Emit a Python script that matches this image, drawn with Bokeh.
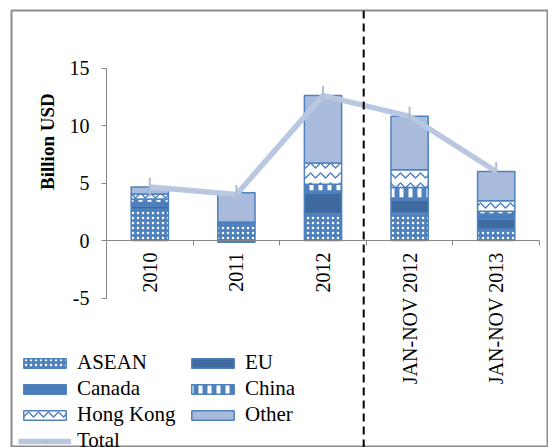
import math
from bokeh.plotting import figure
from bokeh.models import (Range1d, LinearAxis, FixedTicker, Legend, LegendItem,
                          Label, Span, ColumnDataSource)
from bokeh.embed import file_html
from bokeh.resources import INLINE

# ---- data ----
categories = ["2010", "2011", "2012", "JAN-NOV 2012", "JAN-NOV 2013"]
asean = [2.75, 1.45, 2.35, 2.40, 1.00]
eu = [0.25, 0.10, 1.75, 1.10, 0.85]
canada = [0.30, -0.15, 0.20, 0.20, 0.45]
china = [0.30, 0.05, 0.60, 0.90, 0.25]
hong_kong = [0.45, 0.00, 1.85, 1.55, 0.90]
other = [0.60, 2.55, 5.85, 4.65, 2.55]
total = [4.65, 4.00, 12.60, 10.80, 6.00]
y_ticks = [-5, 0, 5, 10, 15]

FONT = "Liberation Serif"
BLUE = "#4f81bd"

xs = list(range(1, len(categories) + 1))
bounds_x = [x - 0.5 for x in xs] + [xs[-1] + 0.5]

p = figure(width=548, height=447,
           x_range=Range1d(-0.597, 5.604), y_range=Range1d(-18.0, 20.0),
           output_backend="svg", toolbar_location=None,
           x_axis_type=None, y_axis_type=None,
           min_border=0, min_border_left=11, min_border_top=10)
p.grid.visible = False
p.outline_line_color = "#8c8c8c"
p.outline_line_width = 2
p.background_fill_color = "white"
p.border_fill_color = "white"

# ---- stacked bars (positive and negative stacks separately) ----
styles = [
    ("ASEAN", asean, dict(fill_color=BLUE, hatch_pattern="dot", hatch_color="white",
                          hatch_scale=5, hatch_weight=1.5)),
    ("EU", eu, dict(fill_color="#3f6aa0")),
    ("Canada", canada, dict(fill_color="#4a7ebb")),
    ("China", china, dict(fill_color=BLUE, hatch_pattern="vertical_line",
                          hatch_color="white", hatch_scale=9, hatch_weight=4)),
    ("Hong Kong", hong_kong, dict(fill_color="white", hatch_pattern="horizontal_wave",
                                  hatch_color=BLUE, hatch_scale=10, hatch_weight=1.5)),
    ("Other", other, dict(fill_color="#a9bbdc")),
]

pos_base = [0.0] * len(xs)
neg_base = [0.0] * len(xs)
items = []
for name, vals, st in styles:
    bottoms, tops = [], []
    for i, v in enumerate(vals):
        if v >= 0:
            b = pos_base[i]
            pos_base[i] = b + v
        else:
            b = neg_base[i]
            neg_base[i] = b + v
        bottoms.append(b)
        tops.append(b + v)
    src = ColumnDataSource(dict(x=xs, bottom=bottoms, top=tops))
    r = p.vbar(x="x", bottom="bottom", top="top", width=0.43, source=src,
               line_color=BLUE, line_width=1.5, **st)
    items.append(LegendItem(label=name, renderers=[r]))

# ---- total line ----
TOTAL_C = "#b9c7e1"
rl = p.line(xs, total, line_color=TOTAL_C, line_width=5.5)
rm = p.scatter(xs, total, marker="dash", angle=math.pi / 2, size=19,
               line_color="#aebcd8", line_width=2)
items.append(LegendItem(label="Total", renderers=[rl, rm]))

# ---- separator ----
p.add_layout(Span(location=3.47, dimension="height", line_color="black",
                  line_width=2, line_dash="8 5"))

# ---- axes ----
yaxis = LinearAxis(fixed_location=0.5, bounds=(y_ticks[0], y_ticks[-1]),
                   ticker=FixedTicker(ticks=y_ticks, minor_ticks=[]))
yaxis.major_label_overrides = {t: str(t) for t in y_ticks}
yaxis.axis_line_color = "#868686"
yaxis.major_tick_line_color = "#868686"
yaxis.major_tick_in = 0
yaxis.major_tick_out = 5
yaxis.minor_tick_line_color = None
yaxis.major_label_standoff = 12
yaxis.major_label_text_font = FONT
yaxis.major_label_text_font_size = "20px"
yaxis.major_label_text_color = "black"
p.add_layout(yaxis, "left")

xaxis = LinearAxis(fixed_location=0, bounds=(bounds_x[0], bounds_x[-1]),
                   ticker=FixedTicker(ticks=xs, minor_ticks=bounds_x))
xaxis.major_label_overrides = {x: c for x, c in zip(xs, categories)}
xaxis.major_label_orientation = math.pi / 2
xaxis.axis_line_color = "#868686"
xaxis.major_tick_line_color = None
xaxis.major_tick_in = 0
xaxis.major_tick_out = 5
xaxis.minor_tick_line_color = "#868686"
xaxis.minor_tick_in = 0
xaxis.minor_tick_out = 5
xaxis.major_label_standoff = 7
xaxis.major_label_text_font = FONT
xaxis.major_label_text_font_size = "20px"
xaxis.major_label_text_color = "black"
p.add_layout(xaxis, "below")

p.add_layout(Label(x=-0.18, y=8.6, text="Billion USD", angle=math.pi / 2,
                   text_align="center", text_baseline="middle",
                   text_font=FONT, text_font_style="bold",
                   text_font_size="19px", text_color="black"))

# ---- legend ----
legend = Legend(items=items, orientation="horizontal", ncols=2,
                location=(7, -6), glyph_width=53, glyph_height=12,
                label_text_font=FONT, label_text_font_size="21px",
                label_text_color="black", label_standoff=6, label_width=108,
                label_height=12, spacing=1, padding=0, margin=0,
                border_line_color=None, background_fill_alpha=0)
p.add_layout(legend)

open("out.html", "w").write(file_html(p, INLINE))
